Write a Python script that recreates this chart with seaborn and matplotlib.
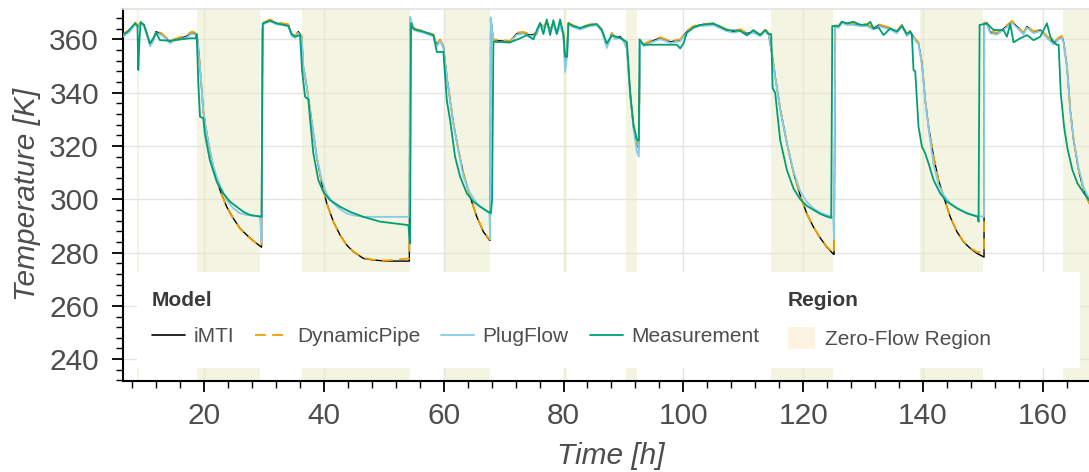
import numpy as np
import pandas as pd
import matplotlib
matplotlib.use("Agg")
import matplotlib.pyplot as plt
import seaborn as sns
from matplotlib.lines import Line2D
from matplotlib.patches import Patch, Rectangle
from matplotlib.ticker import MultipleLocator

# ---------------- data ----------------
model_t = [
    6.43, 7.65, 8.48, 9.03, 9.47, 9.98, 10.48, 10.98, 11.48, 11.99, 12.94, 13.66, 14.32, 14.87, 15.99, 17.11, 17.95, 18.50, 18.88,
    19.33, 19.88, 20.45, 21.00, 21.55, 22.12, 22.67, 23.78, 24.90, 26.00, 27.13, 28.23, 29.35, 29.60,
    29.77, 29.90, 31.02, 32.14, 33.24, 34.08, 34.64, 35.19, 35.74, 36.03, 36.31,
    36.58, 37.15, 37.70, 38.25, 38.81, 39.65, 40.48, 41.59, 42.70, 43.82, 44.93, 46.60, 48.26, 50.50, 54.27,
    54.39, 54.94, 55.51, 56.61, 57.45, 58.28, 58.85, 59.40, 59.68, 59.95,
    60.52, 61.07, 61.62, 62.45, 63.29, 64.41, 65.53, 66.63, 67.63,
    67.75, 67.85, 68.30, 71.09, 72.20, 73.31, 74.42, 75.54, 76.09, 76.64, 77.21, 77.76, 78.31, 78.88, 79.43, 79.98, 80.27, 80.55, 80.82, 81.60, 82.77, 84.44, 85.56, 86.39, 87.23, 88.06, 88.61, 89.45, 90.00, 90.57,
    91.12, 91.67, 92.24, 92.57, 92.79, 93.34, 94.46, 96.13, 97.80, 99.47, 100.58, 101.69, 102.80, 105.02, 107.25, 108.36, 109.48, 110.60, 111.70, 112.82, 113.66, 114.21,
    114.77, 115.33, 116.16, 117.28, 118.39, 119.50, 120.62, 121.73, 122.84, 123.96, 125.01, 125.15,
    125.36, 125.91, 126.47, 127.30, 128.40, 129.52, 130.63, 131.74, 132.58, 133.41, 134.53, 135.64, 136.48, 137.31, 137.86, 138.70, 139.25,
    139.82, 140.37, 140.92, 141.76, 142.59, 143.43, 144.54, 145.66, 146.76, 147.88, 149.00, 150.10, 150.18,
    150.22, 150.66, 151.22, 152.33, 153.44, 154.84, 155.68, 156.78, 157.35, 158.45, 159.57, 160.68, 161.79, 162.63, 163.20,
    163.46, 164.03, 164.57, 165.13, 165.96, 166.80, 167.63, 168.25,
]

imti_T = [
    361.5, 363.5, 366.0, 365.0, 366.3, 365.4, 362.0, 358.0, 359.5, 362.9, 362.0, 360.5, 358.9, 359.7, 360.4, 361.2, 362.5, 362.2, 361.0,
    349.7, 333.0, 324.8, 317.8, 312.2, 307.5, 303.4, 297.2, 292.8, 289.1, 286.6, 284.4, 282.4, 282.0,
    364.0, 366.0, 367.2, 366.0, 365.7, 365.4, 361.6, 361.0, 362.9, 362.0, 361.0,
    349.7, 342.2, 333.5, 324.7, 315.9, 306.0, 298.5, 291.6, 286.6, 282.8, 280.3, 277.8, 277.2, 276.8, 276.8,
    368.0, 364.1, 363.5, 362.9, 362.2, 361.6, 357.9, 359.7, 358.5, 357.2,
    346.0, 337.2, 328.5, 318.5, 309.7, 301.0, 293.4, 287.8, 284.7,
    284.6, 367.9, 359.7, 359.1, 362.2, 362.5, 361.6, 362.2, 366.0, 364.5, 366.5, 363.5, 366.0, 362.5, 365.5, 362.0, 351.0, 354.0, 366.0, 365.0, 364.1, 365.4, 365.7, 363.5, 357.2, 362.2, 360.5, 361.1, 359.7, 356.8,
    339.7, 327.2, 321.0, 319.0, 359.7, 357.9, 359.1, 360.5, 359.1, 359.7, 362.9, 364.7, 365.4, 365.7, 363.5, 362.9, 363.5, 362.2, 362.9, 361.6, 363.5, 362.2,
    355.0, 346.0, 334.0, 321.0, 310.0, 301.5, 294.5, 289.5, 285.5, 282.0, 279.5, 279.3,
    365.0, 364.7, 366.6, 365.8, 365.8, 365.4, 365.4, 364.1, 365.4, 364.8, 364.1, 362.7, 365.4, 361.6, 362.9, 360.0, 358.5,
    351.0, 337.2, 327.2, 316.0, 307.2, 301.0, 293.4, 287.8, 284.0, 281.6, 279.7, 278.4, 278.3,
    366.0, 366.0, 362.7, 362.2, 364.0, 366.6, 364.8, 362.2, 364.8, 362.7, 363.5, 361.0, 358.5, 360.4, 361.0,
    358.9, 349.7, 333.5, 322.2, 311.0, 303.4, 299.1, 296.5,
]

dynamicpipe_T = [
    361.8, 363.8, 366.4, 365.2, 366.5, 365.6, 362.3, 358.3, 359.8, 363.2, 362.3, 360.8, 359.2, 360.0, 360.8, 361.6, 362.9, 362.6, 361.2,
    349.9, 333.3, 325.0, 318.0, 312.2, 307.4, 303.2, 297.0, 292.6, 289.0, 286.5, 284.3, 282.6, 282.5,
    364.5, 366.3, 367.5, 366.3, 366.0, 365.7, 362.0, 361.3, 363.2, 362.3, 361.3,
    349.9, 342.5, 333.8, 325.0, 316.0, 306.0, 298.4, 291.5, 286.5, 282.8, 280.4, 278.0, 277.3, 277.0, 277.8,
    367.5, 364.4, 363.8, 363.2, 362.5, 361.9, 358.3, 360.0, 358.8, 357.5,
    346.3, 337.5, 328.8, 318.6, 309.6, 300.9, 293.4, 287.9, 285.0,
    284.9, 367.5, 360.0, 359.4, 362.5, 362.8, 361.9, 362.5, 366.3, 364.8, 366.8, 363.8, 366.3, 362.8, 365.8, 362.3, 351.5, 354.3, 366.3, 365.3, 364.4, 365.7, 366.0, 363.8, 357.5, 362.5, 360.8, 361.4, 360.0, 357.1,
    340.0, 327.5, 321.3, 319.5, 360.0, 358.2, 359.4, 360.8, 359.4, 360.0, 363.2, 365.0, 365.7, 366.0, 363.8, 363.2, 363.8, 362.5, 363.2, 361.9, 363.8, 362.5,
    355.3, 346.3, 334.2, 321.1, 310.0, 301.4, 294.4, 289.5, 285.6, 282.2, 279.8, 280.0,
    365.3, 365.0, 366.9, 366.1, 366.1, 365.7, 365.7, 364.4, 365.7, 365.1, 364.4, 363.0, 365.7, 361.9, 363.2, 360.3, 358.8,
    351.3, 337.5, 327.4, 316.1, 307.2, 300.9, 293.4, 287.9, 284.2, 281.8, 280.2, 280.0, 280.5,
    366.3, 366.3, 363.0, 362.5, 364.3, 366.9, 365.1, 362.5, 365.1, 363.0, 363.8, 361.3, 358.8, 360.7, 361.3,
    359.2, 350.0, 333.8, 322.4, 311.0, 303.3, 299.0, 296.4,
]

plugflow_T = [
    361.0, 363.0, 365.6, 364.6, 365.9, 365.0, 361.5, 357.4, 359.0, 362.4, 361.6, 360.1, 358.5, 359.3, 360.0, 360.8, 362.1, 361.8, 360.6,
    349.5, 333.0, 324.8, 318.2, 312.5, 308.5, 305.3, 299.7, 296.6, 294.7, 294.1, 293.8, 293.7, 284.0,
    363.5, 365.6, 366.8, 365.6, 365.3, 365.0, 361.2, 360.6, 362.4, 361.6, 360.6,
    349.5, 342.0, 333.4, 324.7, 316.0, 307.2, 302.0, 298.5, 296.3, 294.7, 294.0, 293.4, 293.4, 293.4, 293.4,
    368.5, 363.7, 363.1, 362.5, 361.8, 361.2, 357.4, 359.3, 358.0, 356.8,
    345.8, 337.0, 328.3, 318.2, 308.5, 302.2, 298.5, 296.3, 294.7,
    285.0, 368.3, 359.3, 358.7, 361.8, 362.1, 361.2, 361.8, 365.6, 364.1, 366.1, 363.1, 365.6, 362.1, 365.1, 361.6, 347.8, 353.0, 365.6, 364.6, 363.7, 365.0, 365.3, 363.1, 356.8, 361.8, 360.1, 360.7, 359.3, 356.4,
    339.3, 326.5, 318.0, 316.0, 359.3, 357.5, 358.7, 360.1, 358.7, 359.3, 362.5, 364.3, 365.0, 365.3, 363.1, 362.5, 363.1, 361.8, 362.5, 361.2, 363.1, 361.8,
    354.8, 345.8, 333.8, 321.0, 310.5, 303.0, 299.0, 296.5, 295.0, 294.0, 293.5, 285.0,
    364.6, 364.3, 366.2, 365.4, 365.4, 365.0, 365.0, 363.7, 365.0, 364.4, 363.7, 362.3, 365.0, 361.2, 362.5, 359.6, 358.1,
    350.5, 336.8, 326.5, 313.0, 305.5, 301.6, 298.5, 296.8, 295.5, 294.4, 293.8, 293.4, 293.4,
    365.6, 365.6, 362.3, 361.8, 363.6, 366.2, 364.4, 361.8, 364.4, 362.3, 363.1, 360.6, 358.1, 360.0, 360.6,
    358.5, 349.3, 333.3, 322.5, 311.8, 304.5, 300.5, 298.0,
]

meas_t = [
    6.43, 7.31, 8.48, 8.90, 9.03, 9.23, 9.43, 9.98, 10.48, 10.98, 11.54, 11.99, 12.65, 14.32, 15.99, 17.66, 18.66,
    18.78, 19.05, 19.33, 19.88, 20.13, 20.97, 22.12, 23.22, 24.34, 25.46, 26.56, 27.68, 29.60, 29.80,
    31.02, 32.14, 33.24, 34.08, 34.64, 35.19, 36.03,
    36.36, 36.86, 37.41, 37.70, 38.25, 39.08, 39.91, 41.02, 42.70, 44.37, 46.60, 49.38, 52.72, 54.11, 54.39, 54.56,
    54.94, 55.51, 56.61, 58.28, 58.85, 59.68,
    59.95, 60.52, 61.07, 61.90, 62.74, 63.86, 64.97, 66.08, 67.47, 67.87, 68.08, 68.30,
    71.09, 72.76, 73.88, 74.99, 75.54, 76.09, 76.64, 77.21, 77.76, 78.31, 78.88, 79.43, 79.98, 80.27, 80.60, 80.82, 81.60, 82.77, 84.44, 85.56, 86.39, 87.23, 88.06, 89.45, 90.57, 90.79, 91.12, 91.67, 92.24, 92.57, 92.68,
    93.34, 96.13, 98.92, 99.47, 100.03, 100.58, 101.69, 102.80, 105.02, 107.25, 109.48, 110.60, 111.70, 112.82, 113.66, 114.21,
    114.66, 114.90, 115.32, 116.16, 117.28, 118.39, 119.50, 120.62, 121.73, 122.84, 123.96, 124.68, 124.85,
    125.91, 126.47, 127.30, 128.40, 129.52, 130.63, 131.19, 131.74, 132.58, 133.41, 134.53, 135.64, 136.48, 137.31, 137.86, 138.14,
    138.41, 138.70, 139.25, 139.82, 140.37, 140.92, 141.76, 142.87, 143.99, 145.66, 147.33, 149.17, 149.27, 149.44,
    150.66, 151.77, 153.44, 154.00, 154.56, 155.11, 156.23, 157.35, 158.45, 159.57, 160.68, 161.24, 161.79, 162.35,
    162.63, 162.99, 163.54, 164.10, 164.93, 165.77, 166.87, 167.71, 168.33,
]

meas_T = [
    361.6, 363.0, 366.0, 365.0, 348.5, 360.0, 366.5, 365.4, 362.0, 358.5, 360.4, 362.5, 359.7, 359.5, 360.0, 360.4, 360.4,
    362.0, 343.5, 331.0, 330.4, 324.7, 314.7, 306.6, 302.2, 299.1, 297.2, 295.3, 294.1, 293.4, 366.0,
    367.0, 366.0, 365.5, 365.0, 362.0, 361.0, 361.6,
    348.5, 338.5, 337.5, 330.0, 317.2, 307.2, 302.8, 299.7, 297.2, 295.3, 293.4, 291.6, 290.7, 290.3, 283.5, 366.0,
    364.0, 363.5, 362.9, 361.6, 355.3, 355.3,
    355.3, 337.2, 329.7, 316.0, 308.5, 302.2, 299.1, 297.2, 295.3, 294.7, 299.7, 359.1,
    358.9, 360.4, 361.6, 360.0, 363.5, 366.2, 362.0, 367.5, 361.6, 367.2, 362.0, 367.5, 362.0, 353.5, 353.5, 366.0, 365.0, 364.3, 365.4, 365.7, 363.5, 358.5, 361.5, 360.5, 359.0, 352.0, 340.0, 328.0, 322.5, 322.0, 360.0,
    358.0, 358.0, 358.0, 356.6, 358.5, 362.5, 364.5, 365.4, 366.0, 363.5, 363.2, 361.5, 363.5, 361.6, 363.5, 362.0,
    362.0, 341.6, 340.0, 322.2, 311.0, 304.0, 300.0, 297.5, 296.0, 294.5, 293.5, 293.0, 365.0,
    365.0, 366.6, 366.0, 366.6, 365.5, 365.5, 366.6, 364.0, 364.5, 361.6, 364.1, 363.0, 365.0, 362.0, 363.0, 361.6,
    348.5, 348.0, 327.2, 319.7, 317.2, 313.5, 307.2, 302.2, 299.1, 296.6, 294.7, 293.4, 291.6, 365.4,
    366.0, 363.5, 363.5, 361.0, 365.8, 358.9, 360.4, 361.6, 359.7, 361.0, 366.0, 361.0, 359.1, 357.9,
    358.0, 339.7, 327.2, 319.1, 311.0, 306.0, 302.2, 299.7, 298.5,
]

zero_flow_start = [8.75, 18.9, 36.4, 60.2, 80.1, 90.4, 114.6, 139.5, 163.4]
zero_flow_end = [9.18, 29.3, 54.3, 67.7, 80.65, 92.3, 125.0, 149.95, 172.0]

model_names = ["iMTI", "DynamicPipe", "PlugFlow", "Measurement"]
model_colors = ["#000000", "#F2A100", "#86CBEA", "#009E73"]
region_name = "Zero-Flow Region"

# ---------------- style ----------------
sns.set_theme(style="ticks")
plt.rcParams['font.family'] = ['Liberation Sans', 'DejaVu Sans']
TEXT = "#4d4d4d"

fig = plt.figure(figsize=(10.89, 4.72), dpi=100)
ax = fig.add_axes([0.11267, 0.19280, 0.88733, 0.78813])

ax.grid(True, which='major', color='#e4e4e4', lw=1.0)
ax.set_axisbelow(True)

for s, e in zip(zero_flow_start, zero_flow_end):
    ax.axvspan(s, e, facecolor=(0.92, 0.918, 0.775), alpha=0.5, lw=0, zorder=1)

series = [
    (model_t, imti_T, model_colors[0], 1.0),
    (model_t, dynamicpipe_T, model_colors[1], 1.3),
    (model_t, plugflow_T, model_colors[2], 1.3),
    (meas_t, meas_T, model_colors[3], 1.3),
]
for i, (t, v, c, lw) in enumerate(series):
    df = pd.DataFrame({"t": t, "T": v})
    sns.lineplot(data=df, x="t", y="T", ax=ax, color=c, lw=lw,
                 estimator=None, sort=False, zorder=3 + i)
    if i == 1:
        ax.lines[-1].set_dashes([6, 3.5])

ax.set_xlim(6.43, 167.7)
ax.set_ylim(231.8, 371.4)
ax.xaxis.set_major_locator(MultipleLocator(20))
ax.xaxis.set_minor_locator(MultipleLocator(4))
ax.yaxis.set_major_locator(MultipleLocator(20))
ax.yaxis.set_minor_locator(MultipleLocator(4))
ax.tick_params(which='major', direction='out', length=8, width=1.3, color='black',
               labelsize=21.5, labelcolor=TEXT)
ax.tick_params(axis='x', which='major', pad=7)
ax.tick_params(axis='y', which='major', pad=9)
ax.tick_params(which='minor', direction='out', length=5, width=1.0, color='black')

for side in ['left', 'bottom']:
    ax.spines[side].set_color('black')
    ax.spines[side].set_linewidth(1.5)
ax.spines['top'].set_color('#e4e4e4')
ax.spines['right'].set_visible(False)

ax.set_xlabel("Time [h]", fontsize=21.5, style='italic', color=TEXT)
ax.set_ylabel("Temperature [K]", fontsize=21.5, style='italic', color=TEXT)
ax.xaxis.set_label_coords(0.505, -0.163)
ax.yaxis.set_label_coords(-0.085, 0.5)

# legend background
ax.add_patch(Rectangle((0.0148, 0.035), 0.976, 0.258, transform=ax.transAxes,
                       facecolor='white', edgecolor='none', zorder=10))

handles = [
    Line2D([], [], color=model_colors[0], lw=1.2),
    Line2D([], [], color=model_colors[1], lw=1.3, dashes=[6, 3.5]),
    Line2D([], [], color=model_colors[2], lw=1.3),
    Line2D([], [], color=model_colors[3], lw=1.3),
]
leg1 = ax.legend(handles, model_names, title="Model", loc='upper left',
                 bbox_to_anchor=(0.011, 0.291), ncol=4, frameon=False,
                 fontsize=15, title_fontproperties={'weight': 'bold', 'size': 15},
                 alignment='left', handlelength=1.6, handletextpad=0.4,
                 columnspacing=1.0, labelspacing=0.8, labelcolor=TEXT)
leg1.get_title().set_color('#3a3a3a')
leg1.set_zorder(11)
ax.add_artist(leg1)

leg2 = ax.legend([Patch(facecolor='#fdf3e1', edgecolor='none')], [region_name],
                 title="Region", loc='upper left', bbox_to_anchor=(0.669, 0.291),
                 frameon=False, fontsize=15,
                 title_fontproperties={'weight': 'bold', 'size': 15},
                 alignment='left', handlelength=1.3, handleheight=1.25,
                 handletextpad=0.5, labelspacing=0.8, labelcolor=TEXT)
leg2.get_title().set_color('#3a3a3a')
leg2.set_zorder(11)

fig.savefig("out.png", dpi=100)
